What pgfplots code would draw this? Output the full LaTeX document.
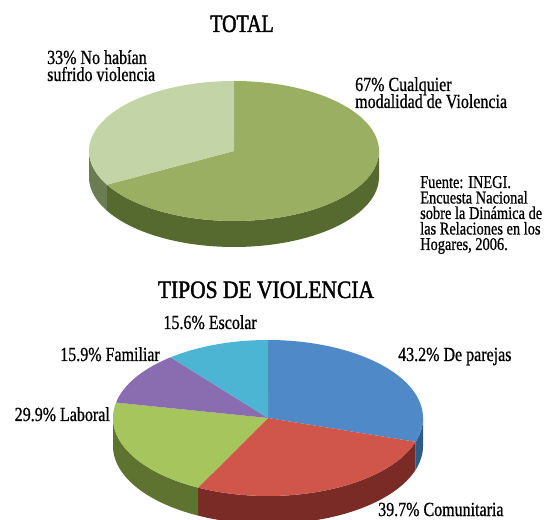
\documentclass[border=0pt]{standalone}
\usepackage{fontspec}
\setmainfont{Liberation Serif}[FakeStretch=0.80, FakeBold=0.8]
\newfontfamily\titlefontA{Liberation Serif}[FakeStretch=0.80, FakeBold=1.6]
\newfontfamily\titlefontB{Liberation Serif}[FakeStretch=0.86, FakeBold=1.6]
\usepackage{pgfplots}
\pgfplotsset{compat=1.18}
\usepgfplotslibrary{fillbetween}

\definecolor{gdark}{HTML}{9AAF62}
\definecolor{glight}{HTML}{C3D4A6}
\definecolor{gdarkside}{HTML}{56692F}
\definecolor{glightside}{HTML}{6C7C52}
\definecolor{cblue}{HTML}{4F89C8}
\definecolor{cblueside}{HTML}{2B5C8A}
\definecolor{cred}{HTML}{D0554B}
\definecolor{credside}{HTML}{7B2B26}
\definecolor{cgreen}{HTML}{A6C55C}
\definecolor{cgreenside}{HTML}{5E7330}
\definecolor{cpurple}{HTML}{8A6DB0}
\definecolor{ccyan}{HTML}{4CB5D3}

% side band of a slice: cx cy rx ry h a b color name
\newcommand{\pieside}[9]{%
  \addplot[draw=none, name path=#9a, domain=#6:#7, samples=80] ({#1+#3*cos(x)},{#2-#4*sin(x)});
  \addplot[draw=none, name path=#9b, domain=#6:#7, samples=80] ({#1+#3*cos(x)},{#2-#4*sin(x)+#5});
  \addplot[fill=#8, draw=none] fill between[of=#9a and #9b];
}
% top of a slice: cx cy rx ry a b color name
\newcommand{\pietop}[8]{%
  \addplot[draw=none, name path=#8a, domain=#5:#6, samples=100] ({#1+#3*cos(x)},{#2-#4*sin(x)});
  \addplot[draw=none, name path=#8b] coordinates {(#1,#2) (#1,#2)};
  \addplot[fill=#7, draw=none] fill between[of=#8a and #8b];
}
\newcommand{\lab}{\fontsize{20}{17}\selectfont}
\newcommand{\src}{\fontsize{18}{15.5}\selectfont}

\begin{document}%
\begin{tikzpicture}
% TOTAL: percentages
\pgfmathsetmacro\tA{90-360*(67/100)}
\pgfmathsetmacro\tB{\tA-360*(33/100)}
% TIPOS DE VIOLENCIA: percentages (sum > 100, slices normalised)
\pgfmathsetmacro\vS{43.2+39.7+29.9+15.9+15.6}
\pgfmathsetmacro\vA{90-360*(43.2/\vS)}
\pgfmathsetmacro\vB{\vA-360*(39.7/\vS)}
\pgfmathsetmacro\vC{\vB-360*(29.9/\vS)}
\pgfmathsetmacro\vD{\vC-360*(15.9/\vS)}
\pgfmathsetmacro\vE{\vD-360*(15.6/\vS)}
\begin{axis}[
  x=1pt, y=1pt, xmin=0, xmax=548, ymin=0, ymax=519,
  y dir=reverse, hide axis, scale only axis, clip=true,
  xtick=\empty, ytick=\empty,
]
\coordinate (bbA) at (rel axis cs:0,0);
\coordinate (bbB) at (rel axis cs:1,1);
% ---- pie 1 ----
\pieside{234}{151}{145}{70}{26}{\tA}{0}{gdarkside}{sa}
\pieside{234}{151}{145}{70}{26}{-180}{\tA}{glightside}{sb}
\pietop{234}{151}{145}{70}{\tA}{90}{gdark}{ta}
\pietop{234}{151}{145}{70}{\tB}{\tA}{glight}{tb}
% ---- pie 2 ----
\pieside{268}{418}{155}{78}{28}{\vA}{0}{cblueside}{sc}
\pieside{268}{418}{155}{78}{28}{\vB}{\vA}{credside}{sd}
\pieside{268}{418}{155}{78}{28}{-180}{\vB}{cgreenside}{se}
\pietop{268}{418}{155}{78}{\vA}{90}{cblue}{tc}
\pietop{268}{418}{155}{78}{\vB}{\vA}{cred}{td}
\pietop{268}{418}{155}{78}{\vC}{\vB}{cgreen}{te}
\pietop{268}{418}{155}{78}{\vD}{\vC}{cpurple}{tf}
\pietop{268}{418}{155}{78}{\vE}{\vD}{ccyan}{tg}
% ---- texts ----
\node[anchor=base, inner sep=0pt, font=\titlefontA\fontsize{25}{26}\selectfont] at (axis cs:242,32) {TOTAL};
\node[anchor=base, inner sep=0pt, font=\titlefontB\fontsize{25}{26}\selectfont] at (axis cs:266,298) {TIPOS DE VIOLENCIA};
\node[anchor=base west, font=\lab, inner sep=0pt] at (axis cs:47,64) {33\% No habían};
\node[anchor=base west, font=\lab, inner sep=0pt] at (axis cs:47,81) {sufrido violencia};
\node[anchor=base west, font=\lab, inner sep=0pt] at (axis cs:355,91) {67\% Cualquier};
\node[anchor=base west, font=\lab, inner sep=0pt] at (axis cs:355,108) {modalidad de Violencia};
\node[anchor=base west, font=\src, inner sep=0pt] at (axis cs:420,188) {Fuente: INEGI.};
\node[anchor=base west, font=\src, inner sep=0pt] at (axis cs:420,203.5) {Encuesta Nacional};
\node[anchor=base west, font=\src, inner sep=0pt] at (axis cs:420,219) {sobre la Dinámica de};
\node[anchor=base west, font=\src, inner sep=0pt] at (axis cs:420,234.5) {las Relaciones en los};
\node[anchor=base west, font=\src, inner sep=0pt] at (axis cs:420,250) {Hogares, 2006.};
\node[anchor=base east, font=\lab, inner sep=0pt] at (axis cs:257,329) {15.6\% Escolar};
\node[anchor=base east, font=\lab, inner sep=0pt] at (axis cs:160,361) {15.9\% Familiar};
\node[anchor=base east, font=\lab, inner sep=0pt] at (axis cs:110,421) {29.9\% Laboral};
\node[anchor=base west, font=\lab, inner sep=0pt] at (axis cs:398,361) {43.2\% De parejas};
\node[anchor=base west, font=\lab, inner sep=0pt] at (axis cs:378,516) {39.7\% Comunitaria};
\end{axis}
\pgfresetboundingbox
\useasboundingbox (bbA) rectangle (bbB);
\end{tikzpicture}%
\end{document}
